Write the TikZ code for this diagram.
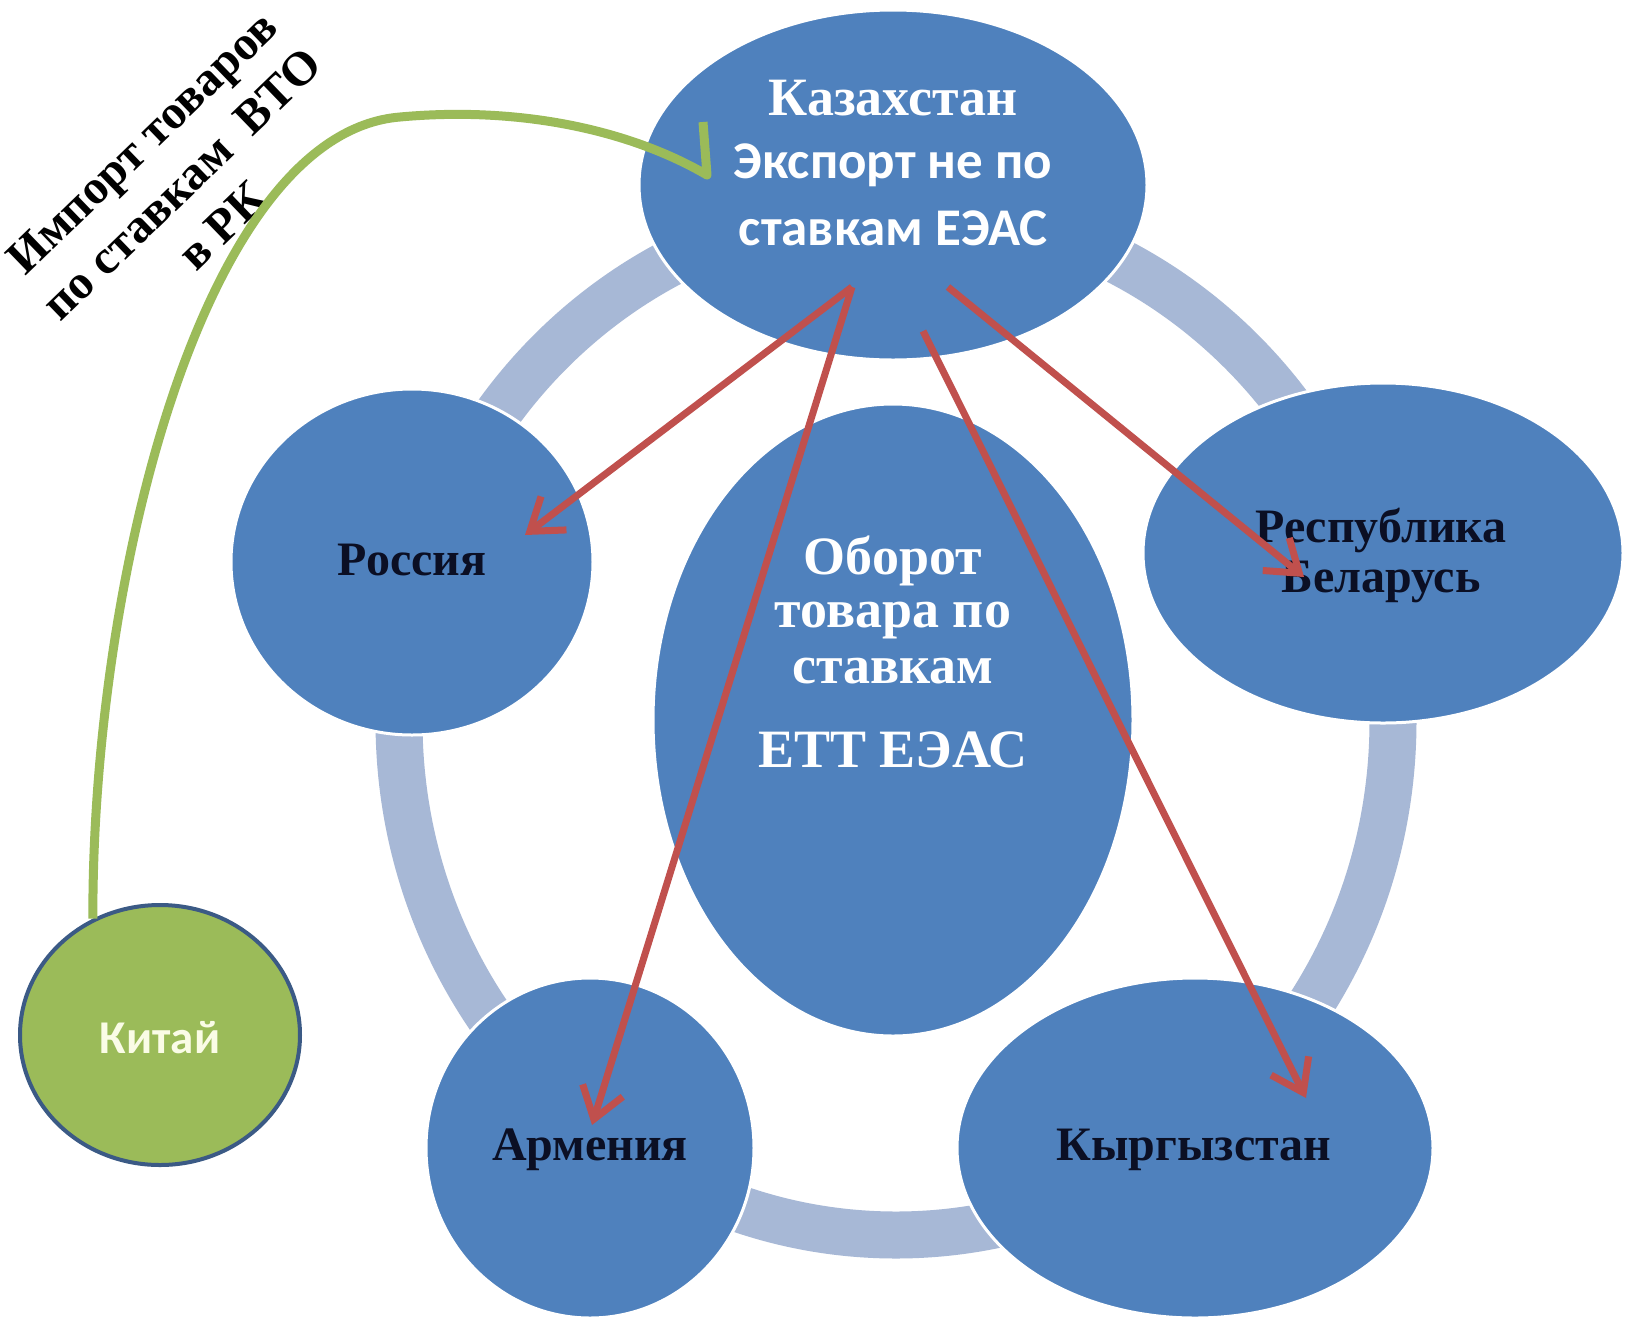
\documentclass[tikz,border=0pt]{standalone}
\usepackage{fontspec}
\setmainfont{Liberation Serif}
\newfontfamily\sansb{Carlito}
\usetikzlibrary{shapes.geometric,arrows.meta}
\definecolor{nodeblue}{HTML}{4F81BD}
\definecolor{ringblue}{HTML}{A7B8D6}
\definecolor{arrred}{HTML}{C0504D}
\definecolor{chgreen}{HTML}{9BBB59}
\definecolor{chborder}{HTML}{3B5A85}
\definecolor{darktext}{HTML}{0B0F24}
\definecolor{chtext}{HTML}{FAFCE6}
\begin{document}
\begin{tikzpicture}[x=1pt,y=-1pt,
  blob/.style={ellipse, fill=nodeblue, draw=white, line width=3pt, inner sep=0pt},
  serifw/.style={font=\fontsize{54}{60}\selectfont\bfseries, text=white, inner sep=0pt, anchor=base},
  serifb/.style={font=\fontsize{48}{56}\selectfont\bfseries, text=darktext, inner sep=0pt, anchor=base},
  sansw/.style={font=\fontsize{53}{60}\selectfont\sansb\bfseries, text=white, inner sep=0pt, anchor=base},
  redarrow/.style={draw=arrred, line width=7pt, -{Straight Barb[length=30pt,width=42pt]}},
  greenline/.style={draw=chgreen, line width=9pt, line join=round},
]
\useasboundingbox (0,0) rectangle (1634,1326);
\fill[white] (0,0) rectangle (1634,1326);

% ring
\draw[ringblue, line width=47pt] (896,721) ellipse [x radius=497, y radius=514];

% shapes
\node[blob, minimum width=508pt, minimum height=350pt] (kz) at (893,185) {};
\node[blob, minimum width=480pt, minimum height=632pt] (centre) at (893,720) {};
\node[blob, minimum width=362pt, minimum height=346pt] (ru) at (412,562) {};
\node[blob, minimum width=480pt, minimum height=340pt] (by) at (1383,553) {};
\node[blob, minimum width=328pt, minimum height=340pt] (am) at (590,1148) {};
\node[blob, minimum width=476pt, minimum height=340pt] (kg) at (1195,1148) {};
\node[ellipse, fill=chgreen, draw=chborder, line width=4pt, inner sep=0pt,
      minimum width=280pt, minimum height=260pt] (cn) at (160,1035) {};

% texts
\node[serifw] (kzt1) at (893,115) {Казахстан};
\node[sansw] (kzt2) at (893,178) {Экспорт не по};
\node[sansw] (kzt3) at (893,245) {ставкам ЕЭАС};
\node[serifw] (ct1) at (893,574) {Оборот};
\node[serifw] (ct2) at (893,627) {товара по};
\node[serifw] (ct3) at (893,683) {ставкам};
\node[serifw] (ct4) at (893,767) {ЕТТ ЕЭАС};
\node[serifb] (rut) at (412,575) {Россия};
\node[serifb] (byt1) at (1381,542) {Республика};
\node[serifb] (byt2) at (1381,592) {Беларусь};
\node[serifb] (amt) at (590,1160) {Армения};
\node[serifb] (kgt) at (1194,1160) {Кыргызстан};
\node[font=\fontsize{47}{52}\selectfont\sansb\bfseries, text=chtext, inner sep=0pt, anchor=base] (cnt) at (160,1053) {Китай};
\node[font=\fontsize{48}{58}\selectfont\bfseries, text=black, align=center, inner sep=0pt, rotate=44] (imp) at (182,184)
  {Импорт товаров\\по ставкам\ \ ВТО\\в РК};

% connector points
\coordinate (kzR) at (852,287);
\coordinate (kzK) at (923,331);
\coordinate (kzB) at (948,287);
\coordinate (ruT) at (525,535);
\coordinate (amT) at (592,1125);
\coordinate (kgT) at (1306,1098);
\coordinate (byT) at (1304,577);
\coordinate (gtop) at (400,117);
\coordinate (gtip) at (707,175);
\coordinate (gbarb) at (703,122);

% green import connector
\draw[greenline] (cn.120) .. controls (92,580) and (203,133) .. (gtop)
  .. controls (520,106) and (630,130) .. (gtip) -- (gbarb);

% red export arrows
\draw[redarrow] (kzR) -- (ruT);
\draw[redarrow] (kzR) -- (amT);
\draw[redarrow] (kzK) -- (kgT);
\draw[redarrow] (kzB) -- (byT);
\end{tikzpicture}
\end{document}
